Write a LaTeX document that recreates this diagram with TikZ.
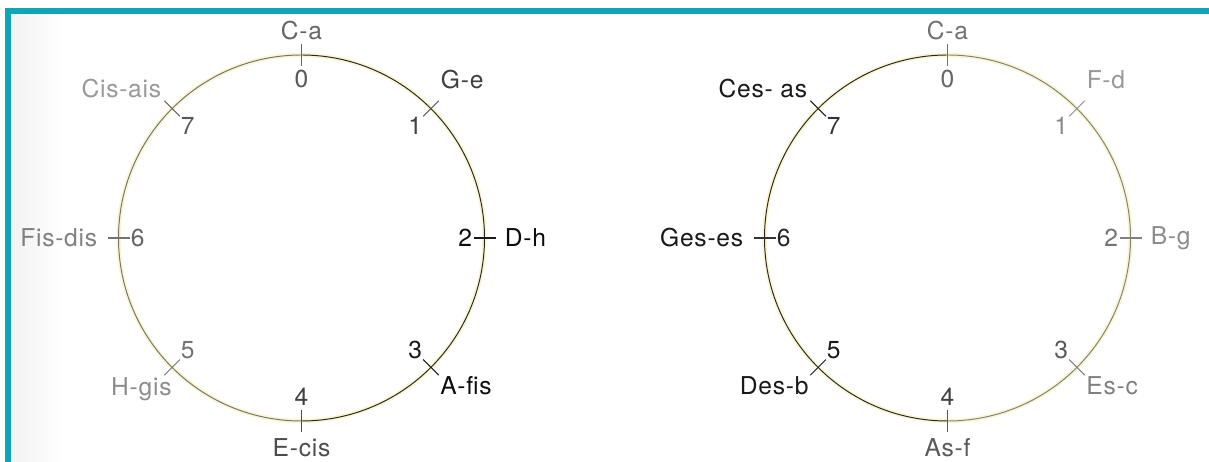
\documentclass[tikz,border=0pt]{standalone}
\usepackage{fontspec}
\setmainfont[LetterSpace=3]{TeX Gyre Heros}
\usepackage{xcolor}
\usepackage{tikz}

\definecolor{framebar}{HTML}{0EA5B9}
\definecolor{glow}{HTML}{FAF6D2}

\begin{document}
\begin{tikzpicture}[
  note/.style={inner sep=0pt,font=\fontsize{14}{16}\selectfont},
  num/.style={inner sep=0pt,font=\fontsize{14}{16}\selectfont},
  tick/.style={line width=0.6pt}]
  \useasboundingbox (0,0) rectangle (24.18,9.24);

  % Frame bars and scan shade
  \shade[left color=black!5,right color=white] (0.22,0) rectangle (1.3,8.96);
  \fill[framebar] (0.10,8.96) rectangle (24.18,9.08);
  \fill[framebar] (0.10,0) rectangle (0.22,9.08);

  % Left circle (sharps)
  \begin{scope}[shift={(6.03,4.48)}]
    \draw[glow,line width=2.5pt] (0,0) circle(3.66);
    \draw[black!85,line width=0.55pt] (-90:3.66) arc(-90:90:3.66);
    \draw[black!55,line width=0.55pt] (90:3.66) arc(90:270:3.66);

    % ticks
    \draw[tick,black!60] (90:3.44)--(90:3.88);
    \draw[tick,black!70] (45:3.44)--(45:3.88);
    \draw[tick,black!90] (0:3.44)--(0:3.88);
    \draw[tick,black!90] (-45:3.44)--(-45:3.88);
    \draw[tick,black!70] (-90:3.44)--(-90:3.88);
    \draw[tick,black!55] (-135:3.44)--(-135:3.88);
    \draw[tick,black!55] (180:3.44)--(180:3.88);
    \draw[tick,black!60] (135:3.44)--(135:3.88);

    % note names
    \node[note,black!60,anchor=south]      (lC) at (90:3.96)   {C-a};
    \node[note,black!75,anchor=south west] (lG) at (47:4.08)   {G-e};
    \node[note,black!95,anchor=west]       (lD) at (0:4.06)    {D-h};
    \node[note,black!95,anchor=north west] (lA) at (-45:3.92)  {A-fis};
    \node[note,black!70,anchor=north]      (lE) at (-90:4.00)  {E-cis};
    \node[note,black!45,anchor=north east] (lH) at (-133:3.80) {H-gis};
    \node[note,black!50,anchor=east]       (lF) at (180:4.08)  {Fis-dis};
    \node[note,black!40,anchor=south east] (lC7) at (135:3.96) {Cis-ais};

    % circle numbers
    \node[num,black!65,anchor=north]      (l0) at (90:3.36)   {0};
    \node[num,black!75,anchor=north east] (l1) at (45:3.42)   {1};
    \node[num,black!95,anchor=east]       (l2) at (0:3.42)    {2};
    \node[num,black!90,anchor=south east] (l3) at (-45:3.42)  {3};
    \node[num,black!75,anchor=south]      (l4) at (-90:3.36)  {4};
    \node[num,black!55,anchor=south west] (l5) at (-135:3.42) {5};
    \node[num,black!60,anchor=west]       (l6) at (180:3.42)  {6};
    \node[num,black!65,anchor=north west] (l7) at (135:3.42)  {7};
  \end{scope}

  % Right circle (flats)
  \begin{scope}[shift={(18.95,4.48)}]
    \draw[glow,line width=2.5pt] (0,0) circle(3.66);
    \draw[black!50,line width=0.55pt] (-90:3.66) arc(-90:90:3.66);
    \draw[black!85,line width=0.55pt] (90:3.66) arc(90:270:3.66);

    % ticks
    \draw[tick,black!55] (90:3.44)--(90:3.88);
    \draw[tick,black!45] (45:3.44)--(45:3.88);
    \draw[tick,black!50] (0:3.44)--(0:3.88);
    \draw[tick,black!50] (-45:3.44)--(-45:3.88);
    \draw[tick,black!65] (-90:3.44)--(-90:3.88);
    \draw[tick,black!90] (-135:3.44)--(-135:3.88);
    \draw[tick,black!80] (180:3.44)--(180:3.88);
    \draw[tick,black!90] (135:3.44)--(135:3.88);

    % note names
    \node[note,black!55,anchor=south]      (rC) at (90:3.96)   {C-a};
    \node[note,black!40,anchor=south west] (rF) at (47:4.08)   {F-d};
    \node[note,black!45,anchor=west]       (rB) at (0:4.06)    {B-g};
    \node[note,black!50,anchor=north west] (rE) at (-45:3.92)  {Es-c};
    \node[note,black!65,anchor=north]      (rA) at (-90:4.00)  {As-f};
    \node[note,black!90,anchor=north east] (rD) at (-135:3.92) {Des-b};
    \node[note,black!90,anchor=east]       (rG) at (180:4.08)  {Ges-es};
    \node[note,black!90,anchor=south east] (rC7) at (135:3.96) {Ces- as};

    % circle numbers
    \node[num,black!60,anchor=north]      (r0) at (90:3.36)   {0};
    \node[num,black!45,anchor=north east] (r1) at (45:3.42)   {1};
    \node[num,black!55,anchor=east]       (r2) at (0:3.42)    {2};
    \node[num,black!65,anchor=south east] (r3) at (-45:3.42)  {3};
    \node[num,black!75,anchor=south]      (r4) at (-90:3.36)  {4};
    \node[num,black!90,anchor=south west] (r5) at (-135:3.42) {5};
    \node[num,black!85,anchor=west]       (r6) at (180:3.42)  {6};
    \node[num,black!80,anchor=north west] (r7) at (135:3.42)  {7};
  \end{scope}

\end{tikzpicture}
\end{document}
